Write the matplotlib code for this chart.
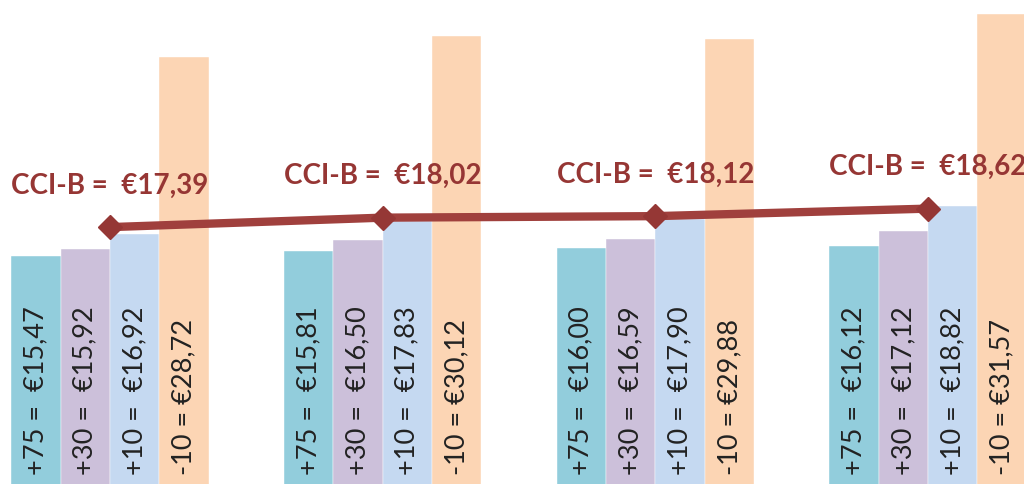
import matplotlib
matplotlib.use("Agg")
import matplotlib.pyplot as plt
import matplotlib.transforms as mtransforms
import numpy as np

# bar series: price at each offset, per group
offsets = ["+75", "+30", "+10", "-10"]
plus75 = [15.47, 15.81, 16.00, 16.12]
plus30 = [15.92, 16.50, 16.59, 17.12]
plus10 = [16.92, 17.83, 17.90, 18.82]
minus10 = [28.72, 30.12, 29.88, 31.57]
cci_b = [17.39, 18.02, 18.12, 18.62]

bar_colors = ["#92CDDC", "#CCC0DA", "#C5D9F1", "#FCD5B4"]
line_color = "#A0403D"
text_color = "#963634"

def euro(v):
    return "€" + f"{v:.2f}".replace(".", ",")

fig = plt.figure(figsize=(10.24, 4.84), dpi=100)
ax = fig.add_axes([0, 0, 1, 1])

x = np.arange(len(cci_b))
width = 0.181
series = [plus75, plus30, plus10, minus10]
trans = mtransforms.blended_transform_factory(ax.transData, ax.transAxes)

for i, (name, vals) in enumerate(zip(offsets, series)):
    pos = x + (i - 1.5) * width
    ax.bar(pos, vals, width=width, color=bar_colors[i], edgecolor="white",
           linewidth=0.3, zorder=1)
    sep = "  " if name != "-10" else " "
    for p, v in zip(pos, vals):
        ax.text(p, 0.019, f"{name} ={sep}{euro(v)}", rotation=90, ha="center",
                va="bottom", transform=trans, fontsize=19.5, color="#222222",
                family=["Lato", "DejaVu Sans"], zorder=3)

ax.plot(x, cci_b, color=line_color, linewidth=6, marker="D",
        markersize=12, markerfacecolor="#953735", markeredgecolor="#953735",
        zorder=4)
for xi, v in zip(x, cci_b):
    ax.annotate(f"CCI-B =  {euro(v)}", (xi, v), xytext=(0, 30),
                textcoords="offset points", ha="center", va="center",
                fontsize=20, fontweight="bold", color=text_color,
                family=["Lato", "DejaVu Sans"], zorder=5)

ax.set_xlim(-0.403, 3.352)
ax.set_ylim(0.3, 32.5)
ax.axis("off")

fig.savefig("out.png", dpi=100)
